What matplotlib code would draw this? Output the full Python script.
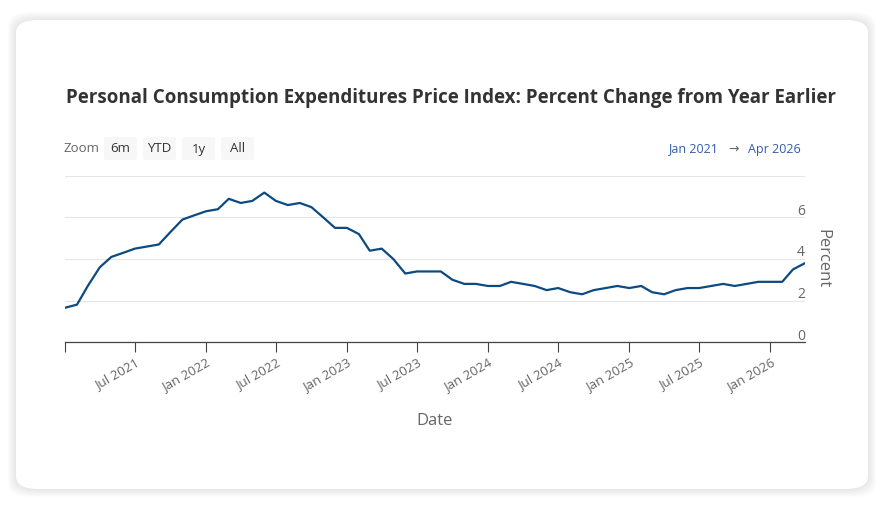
import numpy as np
import pandas as pd
import matplotlib
matplotlib.use("Agg")
import matplotlib.pyplot as plt
import matplotlib.dates as mdates
from matplotlib.patches import FancyBboxPatch
from matplotlib.transforms import ScaledTranslation

# monthly PCE price index, percent change from year earlier
months = pd.date_range("2021-01-01", "2026-04-01", freq="MS")
pce = [1.65, 1.8, 2.7, 3.6, 4.1, 4.3, 4.5, 4.6, 4.7, 5.3, 5.9, 6.1,
       6.3, 6.4, 6.9, 6.7, 6.8, 7.2, 6.8, 6.6, 6.7, 6.5, 6.0, 5.5,
       5.5, 5.2, 4.4, 4.5, 4.0, 3.3, 3.4, 3.4, 3.4, 3.0, 2.8, 2.8,
       2.7, 2.7, 2.9, 2.8, 2.7, 2.5, 2.6, 2.4, 2.3, 2.5, 2.6, 2.7,
       2.6, 2.7, 2.4, 2.3, 2.5, 2.6, 2.6, 2.7, 2.8, 2.7, 2.8, 2.9,
       2.9, 2.9, 3.5, 3.8]

tick_dates = pd.date_range("2021-01-01", "2026-01-01", freq="6MS")
tick_labels = [""] + [d.strftime("%b %Y") for d in tick_dates[1:]]
y_ticks = [0, 2, 4, 6, 8]
y_labels = ["0", "2", "4", "6", ""]
zoom_buttons = ["6m", "YTD", "1y", "All"]

W, H = 889, 511
LINE = "#0d4a82"
GREY = "#666666"


def fx(px):
    return px / W


def fy(py):
    return 1 - py / H


fig = plt.figure(figsize=(W / 100, H / 100), dpi=100)
fig.patch.set_facecolor("white")
plt.rcParams["font.family"] = ["Open Sans", "DejaVu Sans"]

# card with a soft shadow
for i in range(12, 0, -1):
    sh = FancyBboxPatch((fx(16 - i * 0.7), fy(489 + i * 0.7)), fx(852 + i * 1.4), (469 + i * 1.4) / H,
                        boxstyle="round,pad=0,rounding_size=0.028", transform=fig.transFigure,
                        facecolor="black", edgecolor="none", alpha=0.007, zorder=0)
    fig.patches.append(sh)
card = FancyBboxPatch((fx(16), fy(489)), fx(852), 469 / H,
                      boxstyle="round,pad=0,rounding_size=0.025", transform=fig.transFigure,
                      facecolor="white", edgecolor="none", zorder=1)
fig.patches.append(card)

fig.text(fx(451.5), fy(98), "Personal Consumption Expenditures Price Index: Percent Change from Year Earlier",
         ha="center", va="center", fontsize=13.5, fontweight="bold", color="#333333", zorder=3)

# range selector
fig.text(fx(64), fy(149), "Zoom", ha="left", va="center", fontsize=9.5, color=GREY, zorder=3)
bx = [104, 143, 182, 221]
for x0, lab in zip(bx, zoom_buttons):
    b = FancyBboxPatch((fx(x0), fy(160)), fx(33), 23 / H,
                       boxstyle="round,pad=0,rounding_size=0.004", transform=fig.transFigure,
                       facecolor="#f7f7f7", edgecolor="none", zorder=2)
    fig.patches.append(b)
    fig.text(fx(x0 + 16.5), fy(149), lab, ha="center", va="center", fontsize=9.5, color="#333333", zorder=3)
fig.text(fx(801), fy(149), "Apr 2026", ha="right", va="center", fontsize=9, color="#335cad", zorder=3)
fig.text(fx(734), fy(149), "\u2192", ha="center", va="center", fontsize=9, color=GREY, zorder=3)
fig.text(fx(718), fy(149), "Jan 2021", ha="right", va="center", fontsize=9, color="#335cad", zorder=3)

ax = fig.add_axes([fx(65), 1 - 342 / H, fx(740), 166 / H])
ax.set_facecolor("none")
ax.set_zorder(4)
ax.plot(months, pce, color=LINE, linewidth=1.6, solid_joinstyle="round")

ax.set_xlim(months[0], months[-1])
ax.set_ylim(0, 8)
ax.set_yticks(y_ticks)
ax.set_yticklabels(y_labels)
ax.grid(axis="y", color="#e6e6e6", linewidth=0.8)
ax.set_axisbelow(True)
ax.yaxis.tick_right()
ax.tick_params(axis="y", length=0, pad=0, labelsize=10, labelcolor=GREY)
for lbl in ax.get_yticklabels():
    lbl.set_horizontalalignment("right")
    lbl.set_transform(lbl.get_transform() + ScaledTranslation(0, 8 / 100, fig.dpi_scale_trans))

ax.set_xticks(tick_dates)
ax.set_xticklabels(tick_labels, rotation=30, ha="right", va="top", rotation_mode="anchor")
ax.tick_params(axis="x", length=7.5, width=0.8, color="#444444", pad=3, labelsize=9.5, labelcolor=GREY)

for s in ["top", "left", "right"]:
    ax.spines[s].set_visible(False)
ax.spines["bottom"].set_color("#444444")
ax.spines["bottom"].set_linewidth(0.9)

ax.yaxis.set_label_position("right")
ax.set_ylabel("Percent", rotation=-90, fontsize=12, color=GREY, labelpad=14, va="center")
ax.yaxis.set_label_coords(1.0 + 17 / 740, 0.5)
ax.set_xlabel("Date", fontsize=12, color=GREY, labelpad=13)

fig.savefig("out.png", dpi=100)
